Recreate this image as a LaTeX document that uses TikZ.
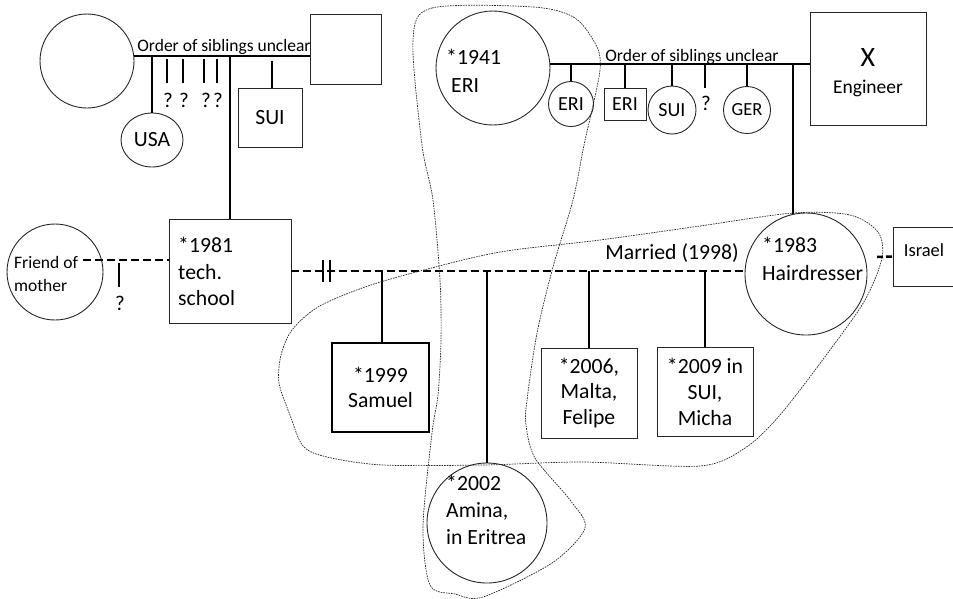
\documentclass[tikz,border=0pt]{standalone}
\usepackage{fontspec}
\setmainfont{Carlito}
\usetikzlibrary{shapes.geometric}
\begin{document}
\begin{tikzpicture}[x=1pt,y=-1pt,
  person/.style={draw=black!85,line width=0.9pt,inner sep=0pt},
  circ/.style={person,circle},
  sq/.style={person,rectangle},
  lab/.style={font=\fontsize{21.7}{26}\selectfont,inner sep=0pt,align=left},
  labc/.style={font=\fontsize{21.7}{26}\selectfont,align=center},
  small/.style={font=\fontsize{17.5}{20}\selectfont,inner sep=0pt},
  qm/.style={font=\fontsize{21}{22}\selectfont,inner sep=0pt},
  tie/.style={line width=2.5pt},
  rel/.style={line width=2.5pt,dash pattern=on 8pt off 4pt},
  grp/.style={draw=black!85,line width=0.7pt,dash pattern=on 1.6pt off 1pt},
]
\useasboundingbox (0,0) rectangle (953,598);
\path[clip] (0,0) rectangle (953,598);

% ---------- top left family ----------
\node[circ,minimum size=94pt] (gm1) at (87,61) {};
\node[sq,minimum width=71pt,minimum height=70pt] (gf1) at (345.5,49) {};
\draw[tie] (gm1.6) -- (gm1.6 -| gf1.west);
\node[small,anchor=south] (os1) at (224,55) {Order of siblings unclear};

\node[person,ellipse,minimum width=62pt,minimum height=54pt,font=\fontsize{21.7}{24}\selectfont] (usa) at (152,140) {USA};
\draw[tie] (usa.north |- gm1.6) -- (usa.north);

\coordinate (q1t) at (167,59);
\coordinate (q2t) at (183,59);
\coordinate (q3t) at (204,59);
\coordinate (q4t) at (217,59);
\draw[tie] (q1t) -- ++(0,24) (q2t) -- ++(0,24) (q3t) -- ++(0,24) (q4t) -- ++(0,24);
\node[qm] (q1) at (168,100) {?};
\node[qm] (q2) at (184,100) {?};
\node[qm] (q3) at (206,100) {?};
\node[qm] (q4) at (218,100) {?};

\node[sq,minimum width=64pt,minimum height=59pt,font=\fontsize{21.7}{24}\selectfont] (sui1) at (270,117.5) {SUI};
\draw[tie] ([xshift=2pt]sui1.north) -- ++(0,-27);

% ---------- top right family ----------
\node[circ,minimum size=114pt] (gm2) at (493,68) {};
\node[lab,anchor=west,font=\fontsize{21.7}{28}\selectfont] (gm2t) at (446,71) {*1941\\\hspace*{5pt}ERI};
\node[sq,minimum width=116pt,minimum height=113pt] (gf2) at (868,68.5) {};
\node[font=\fontsize{28}{30}\selectfont,inner sep=0pt] (gf2x) at (868,58) {X};
\node[font=\fontsize{19.5}{22}\selectfont,inner sep=0pt] (gf2e) at (868,88) {Engineer};
\draw[tie] (gm2.4) -- (gm2.4 -| gf2.west);
\node[small,anchor=south] (os2) at (692,65) {Order of siblings unclear};

\node[circ,minimum size=45pt,font=\fontsize{20}{22}\selectfont] (eri1) at (571,104) {ERI};
\draw[tie] (eri1.north |- gm2.4) -- (eri1.north);
\node[sq,minimum width=42pt,minimum height=32pt,font=\fontsize{20}{22}\selectfont] (eri2) at (625,104) {ERI};
\draw[tie] (eri2.north |- gm2.4) -- (eri2.north);
\node[circ,minimum size=48pt,font=\fontsize{20}{22}\selectfont] (sui2) at (672,110) {SUI};
\draw[tie] (sui2.north |- gm2.4) -- (sui2.north);
\coordinate (q5t) at (705,64);
\draw[tie] (q5t) -- ++(0,24);
\node[qm] (q5) at (706,103) {?};
\node[circ,minimum size=47pt,font=\fontsize{18.5}{20}\selectfont] (ger) at (747,110) {GER};
\draw[tie] (ger.north |- gm2.4) -- (ger.north);

% ---------- middle generation ----------
\node[circ,minimum size=96pt] (fr) at (55,272) {};
\node[font=\fontsize{17.5}{23}\selectfont,align=left,inner sep=0pt] (frt) at (46,274) {Friend of\\mother};

\node[sq,minimum width=122pt,minimum height=104pt] (b1981) at (230,271) {};
\node[lab,anchor=west,font=\fontsize{21.7}{26.5}\selectfont] (b1981t) at (178,271.5) {*1981\\tech.\\school};
\draw[tie] (b1981.north |- gm1.6) -- (b1981.north);

\coordinate (frl) at (83,260);
\draw[rel] (frl) -- (frl -| b1981.west);
\coordinate (q6t) at (119,263);
\draw[tie] (q6t) -- ++(0,24);
\node[qm] (q6) at (120,303) {?};

\node[circ,minimum size=122pt] (hd) at (806,274) {};
\node[lab,anchor=west,font=\fontsize{21.7}{28}\selectfont] (hdt) at (762,259) {*1983\\Hairdresser};
\draw[tie] (hd.102 |- gm2.4) -- (hd.102);

\draw[rel] (b1981.east) -- (b1981.east -| hd.west);
\coordinate (div) at (326.5,271);
\draw[tie] (div) ++(-3.5,-11) -- ++(0,22);
\draw[tie] (div) ++(3.5,-11) -- ++(0,22);
\node[font=\fontsize{21.7}{24}\selectfont,inner sep=0pt] (mar) at (672,253) {Married (1998)};

\node[sq,minimum width=80pt,minimum height=59pt,anchor=west] (isr) at (893,256.5) {};
\node[font=\fontsize{18.5}{20}\selectfont,inner sep=0pt] (isrt) at (924,250) {Israel};
\coordinate (isl) at (877,257);
\draw[line width=2.5pt,dash pattern=on 6pt off 3pt] (isl) -- (isr.west);

% ---------- children ----------
\node[draw,line width=2.2pt,minimum width=97pt,minimum height=89pt,labc,font=\fontsize{21.7}{25}\selectfont] (sam) at (380.5,387.5) {*1999\\Samuel};
\draw[tie] ([xshift=1.5pt]sam.north |- b1981.east) -- ([xshift=1.5pt]sam.north);

\node[circ,minimum size=120pt] (am) at (487,523) {};
\node[lab,anchor=west,font=\fontsize{21.7}{27}\selectfont] (amt) at (446,510) {*2002\\Amina,\\in Eritrea};
\draw[tie] (am.north |- b1981.east) -- (am.north);

\node[sq,minimum width=96pt,minimum height=90pt,labc,font=\fontsize{21.7}{25.5}\selectfont] (fel) at (589,393) {*2006,\\Malta,\\Felipe};
\draw[tie] (fel.north |- b1981.east) -- (fel.north);
\node[sq,minimum width=96pt,minimum height=89pt,labc,font=\fontsize{21.7}{26}\selectfont] (mic) at (705,391.5) {*2009 in\\SUI,\\Micha};
\draw[tie] (mic.north |- b1981.east) -- (mic.north);

% ---------- groupings ----------
\draw[grp] plot[smooth cycle] coordinates {
  (413,40) (432,8) (533,7) (575,18) (597,47) (600,70) (592,110) (584,145)
  (573,200) (553,267) (537,333) (527,400) (526,425) (535,458) (570,500)
  (585,528) (552,563) (483,597) (455,594) (430,585) (423,527) (432,433)
  (438,395) (441,340) (440,280) (433,200) (422,145)};
\draw[grp] plot[smooth cycle] coordinates {
  (793,213) (850,215) (878,232) (882,258) (865,300) (830,350) (780,415)
  (745,448) (700,466) (583,462) (483,465) (383,465) (327,457) (303,446)
  (290,415) (279,383) (281,355) (292,330) (318,307) (365,287) (420,271)
  (500,252) (600,240) (700,226)};
\end{tikzpicture}
\end{document}
